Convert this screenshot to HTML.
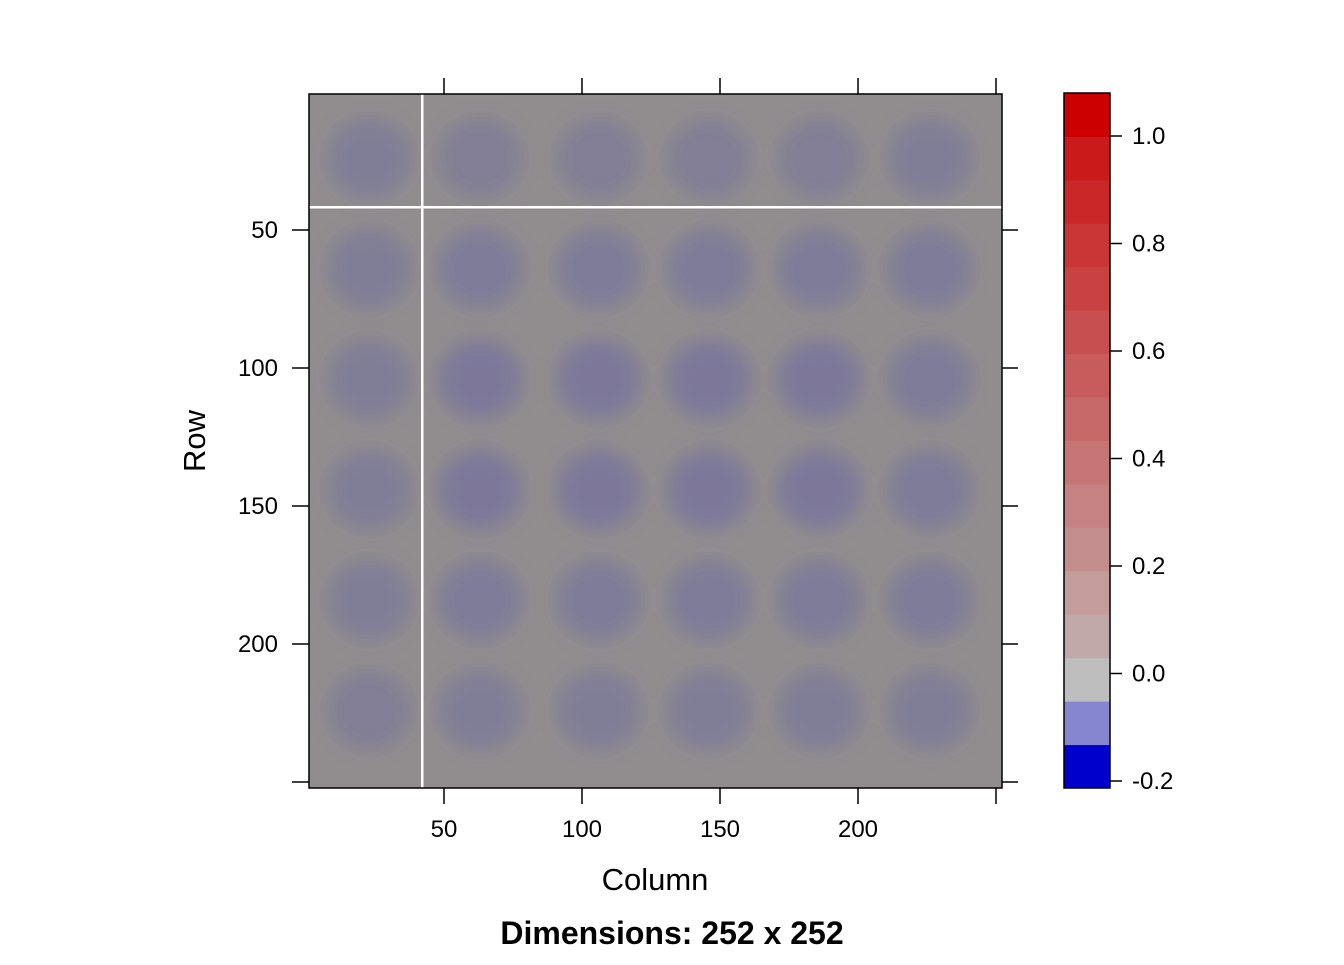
<!DOCTYPE html>
<html><head><meta charset="utf-8"><style>
body{margin:0;background:#fff;}
svg text{font-family:"Liberation Sans",sans-serif;}
</style></head><body>
<svg id="chart" width="1344" height="960">
<rect width="1344" height="960" fill="#fff"/>
<defs>
<filter id="blur"><feGaussianBlur stdDeviation="9"/></filter>
<clipPath id="plotclip"><rect x="309" y="94" width="693" height="694"/></clipPath>
</defs>
<rect x="309" y="94" width="693" height="694" fill="#918d8e"/>
<g id="blobs" clip-path="url(#plotclip)" filter="url(#blur)"></g>
<g id="lines"></g>
<rect x="309" y="94" width="693" height="694" fill="none" stroke="#000" stroke-width="1.5"/>
<g id="axes"></g>
<g id="colorbar"></g>
<text x="655" y="890" font-size="31" text-anchor="middle">Column</text>
<text x="0" y="0" font-size="31" text-anchor="middle" transform="translate(205,441) rotate(-90)">Row</text>
<text x="672" y="944" font-size="32" font-weight="bold" text-anchor="middle">Dimensions: 252 x 252</text>
</svg>
<script>
const blobRows=[24,64,104,144,184,224];
const blobCols=[23,63,106,146,186,226];
const blobStrength=[
[0.8,0.7,0.7,0.7,0.7,0.8],
[0.8,0.9,0.9,0.9,0.9,0.9],
[0.8,1.0,1.0,1.0,1.0,0.9],
[0.8,1.0,1.0,1.0,1.0,0.9],
[0.8,0.9,0.9,0.9,0.9,0.9],
[0.7,0.8,0.8,0.8,0.8,0.8]];
const xTicks=[50,100,150,200,250];
const yTicks=[50,100,150,200,250];
const cbTicks=[1.0,0.8,0.6,0.4,0.2,0.0,-0.2];
const cbColors=["#0000CC","#8585D0","#BEBEBE","#C2A9A9","#C49C9C","#C58E8E","#C68282","#C67575","#C76868","#C85C5C","#C84F4F","#C94242","#CA3535","#CA2828","#CB1A1A","#CC0000"];
const NS="http://www.w3.org/2000/svg";
const sx=c=>306+2.76*c, sy=r=>92+2.76*r;
const vy=v=>136+(1.0-v)*537.5;
function mk(tag,attrs,parent){const e=document.createElementNS(NS,tag);for(const k in attrs)e.setAttribute(k,attrs[k]);parent.appendChild(e);return e;}
const blobs=document.getElementById('blobs');
blobRows.forEach((r,i)=>blobCols.forEach((c,j)=>{
  const e=mk('ellipse',{cx:sx(c),cy:sy(r),rx:42,ry:40,fill:'#5552b0','fill-opacity':0.34*blobStrength[i][j]},blobs);
  
  
}));
const lines=document.getElementById('lines');
let l=mk('rect',{x:309,y:206,width:693,height:2.5,fill:'#fff'},lines);


l=mk('rect',{x:421,y:94,width:2.5,height:694,fill:'#fff'},lines);


const ax=document.getElementById('axes');
xTicks.forEach(t=>{
  const x=sx(t);
  let e=mk('line',{x1:x,x2:x,y1:94,y2:78,stroke:'#000','stroke-width':1.5},ax);
  
  e=mk('line',{x1:x,x2:x,y1:788,y2:804,stroke:'#000','stroke-width':1.5},ax);
  
  if(t<250){e=mk('text',{x:x,y:837,'font-size':24,'text-anchor':'middle'},ax);e.textContent=t;
  }
});
yTicks.forEach(t=>{
  const y=sy(t);
  let e=mk('line',{x1:309,x2:292,y1:y,y2:y,stroke:'#000','stroke-width':1.5},ax);
  
  e=mk('line',{x1:1002,x2:1018,y1:y,y2:y,stroke:'#000','stroke-width':1.5},ax);
  
  if(t<250){e=mk('text',{x:278,y:y+8,'font-size':24,'text-anchor':'end'},ax);e.textContent=t;
  }
});
const cb=document.getElementById('colorbar');
const cbTop=93,cbBot=788,segH=(cbBot-cbTop)/cbColors.length;
cbColors.forEach((c,i)=>{
  const e=mk('rect',{x:1064,y:cbBot-(i+1)*segH,width:46,height:segH+0.5,fill:c},cb);
  
});
let f=mk('rect',{x:1064,y:cbTop,width:46,height:cbBot-cbTop,fill:'none',stroke:'#000','stroke-width':1.5},cb);

cbTicks.forEach(v=>{
  const y=vy(v);
  let e=mk('line',{x1:1110,x2:1122,y1:y,y2:y,stroke:'#000','stroke-width':1.5},cb);
  
  e=mk('text',{x:1132,y:y+8,'font-size':24},cb);e.textContent=v.toFixed(1);
  
});
</script>
</body></html>
